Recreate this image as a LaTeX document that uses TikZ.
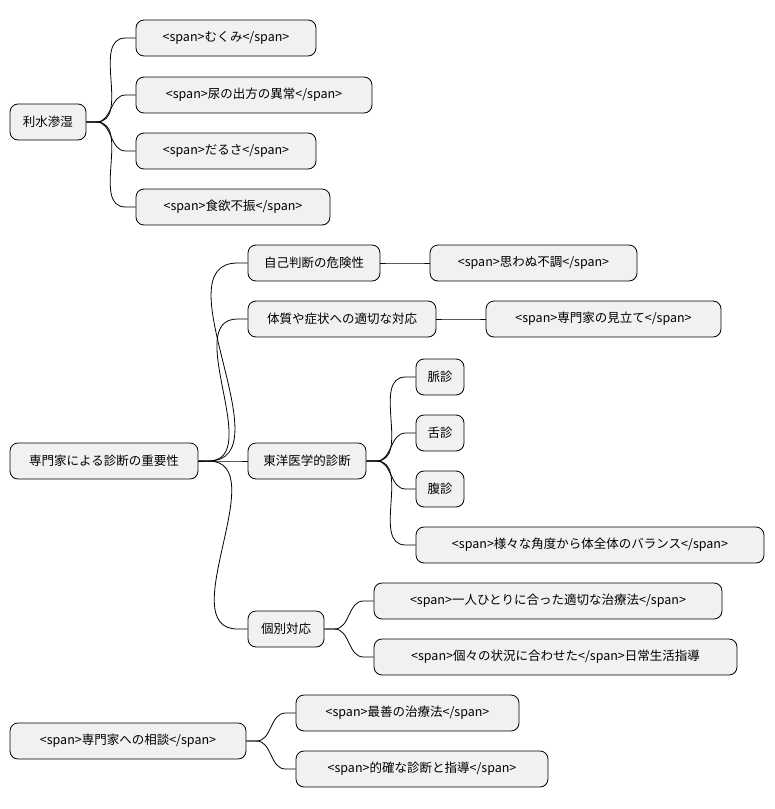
\documentclass[tikz,border=0pt]{standalone}
\usepackage{fontspec}
\setmainfont{Noto Sans CJK JP}
\begin{document}
\begin{tikzpicture}[x=1pt,y=-1pt,
  box/.style={draw=black,fill=boxgray,rounded corners=8pt,line width=0.8pt,minimum height=36pt,inner xsep=0pt,font=\fontsize{12.5}{15}\selectfont},
  link/.style={draw=black,line width=0.8pt}]
\definecolor{boxgray}{HTML}{F1F1F1}
\useasboundingbox (0,0) rectangle (775,809);
\newcommand{\bx}[5]{\node[box,minimum width=#3-#2] (#1) at ({(#2+#3)/2},#4) {#5};}
\newcommand{\lk}[2]{\draw[link] (#1.east) -- ++(10,0) to[out=0,in=180] ([xshift=-10pt]#2.west) -- (#2.west);}
\bx{a}{10}{86}{122}{利水滲湿}
\bx{a1}{136}{316}{38}{<span>むくみ</span>}
\bx{a2}{136}{372}{95}{<span>尿の出方の異常</span>}
\bx{a3}{136}{316}{151}{<span>だるさ</span>}
\bx{a4}{136}{330}{207}{<span>食欲不振</span>}
\bx{b}{10}{198}{461}{専門家による診断の重要性}
\bx{b1}{248}{380}{263}{自己判断の危険性}
\bx{b11}{430}{637}{263}{<span>思わぬ不調</span>}
\bx{b2}{248}{436}{319}{体質や症状への適切な対応}
\bx{b21}{486}{721}{319}{<span>専門家の見立て</span>}
\bx{b3}{248}{366}{461}{東洋医学的診断}
\bx{b31}{416}{464}{377}{脈診}
\bx{b32}{416}{464}{433}{舌診}
\bx{b33}{416}{464}{489}{腹診}
\bx{b34}{416}{764}{545}{<span>様々な角度から体全体のバランス</span>}
\bx{b4}{248}{324}{629}{個別対応}
\bx{b41}{374}{722}{601}{<span>一人ひとりに合った適切な治療法</span>}
\bx{b42}{374}{737}{657}{<span>個々の状況に合わせた</span>日常生活指導}
\bx{c}{10}{246}{741}{<span>専門家への相談</span>}
\bx{c1}{296}{519}{713}{<span>最善の治療法</span>}
\bx{c2}{296}{548}{769}{<span>的確な診断と指導</span>}
\foreach \p/\c in {a/a1,a/a2,a/a3,a/a4,b/b1,b/b2,b/b3,b/b4,b1/b11,b2/b21,b3/b31,b3/b32,b3/b33,b3/b34,b4/b41,b4/b42,c/c1,c/c2}{\lk{\p}{\c}}
\end{tikzpicture}
\end{document}
